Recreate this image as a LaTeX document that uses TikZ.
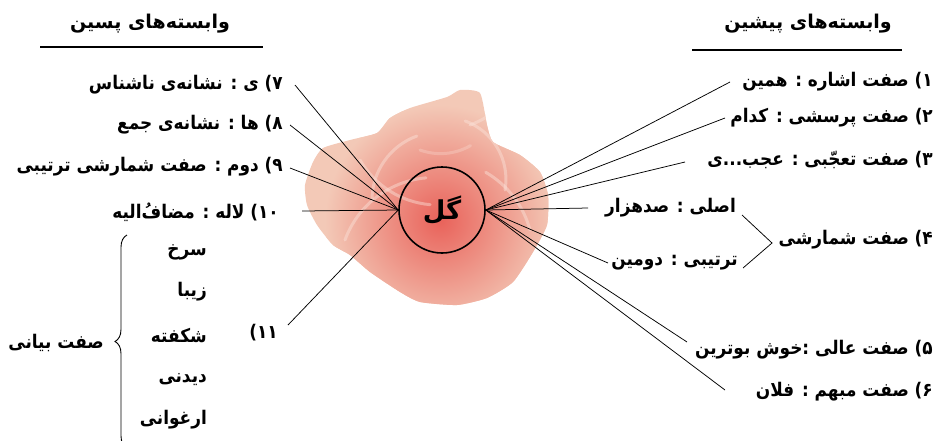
\documentclass[tikz,border=0pt]{standalone}
\usepackage{fontspec}
\newfontfamily\fa[Script=Arabic]{DejaVu Sans}
\newfontfamily\fan[Script=Arabic, FakeStretch=0.9]{DejaVu Sans}
\newfontfamily\dv[FakeStretch=0.9]{DejaVu Sans}
\TeXXeTstate=1
\usetikzlibrary{decorations.pathreplacing}
\definecolor{rosebase}{HTML}{F3C9B7}
\definecolor{rosered}{HTML}{E9625A}
\definecolor{roselight}{HTML}{FBE3DA}
\newcommand\RL[1]{\beginR #1\endR}
\begin{document}
\begin{tikzpicture}[x=1pt,y=-1pt,
  lbl/.style={font=\fan\bfseries\fontsize{18.8}{22}\selectfont, inner sep=0pt, anchor=east},
  ttl/.style={font=\fa\bfseries\fontsize{19}{23}\selectfont, inner sep=0pt},
  conn/.style={line width=0.75pt, black},
  rule/.style={line width=1.6pt, black},
  petal/.style={line width=3pt, roselight, opacity=0.45, line cap=round}
  ]
\useasboundingbox (0,0) rectangle (944,440);

% rose
\def\rosepath{(305,185) (313,162) (323,148) (350,140) (377,133) (390,118) (410,108) (447,97) (460,90) (480,93) (487,125) (493,142) (520,155) (540,172) (548,195) (547,225) (533,252) (513,282) (487,298) (457,305) (420,302) (400,292) (370,272) (350,255) (333,245) (317,225) (307,205)}
\fill[rosebase] plot[smooth cycle, tension=0.35] coordinates {\rosepath};
\begin{scope}
  \clip plot[smooth cycle, tension=0.35] coordinates {\rosepath};
  \shade[inner color=rosered, outer color=rosebase] (440,220) circle[radius=115];
  \draw[petal] (372,200) arc[start angle=180, end angle=250, radius=68];
  \draw[petal] (505,190) arc[start angle=10, end angle=-70, radius=62];
  \draw[petal] (360,160) arc[start angle=150, end angle=95, radius=90];
  \draw[petal] (470,125) arc[start angle=70, end angle=25, radius=90];
  \draw[petal] (345,240) arc[start angle=200, end angle=265, radius=95];
  \draw[petal] (530,230) arc[start angle=-15, end angle=-60, radius=95];
  \draw[petal, opacity=0.3] (420,150) arc[start angle=110, end angle=60, radius=60];
\end{scope}

% centre
\node[draw, circle, line width=1.6pt, minimum size=86pt, inner sep=0pt,
      font=\fa\bfseries\fontsize{26}{28}\selectfont] (gul) at (442,210) {\RL{گل}};

% titles
\node[ttl] (tleft) at (150,24) {\RL{وابسته‌های پسین}};
\node[ttl] (tright) at (808,24) {\RL{وابسته‌های پیشین}};
\draw[rule] (40,47) -- (263,47);
\draw[rule] (692,50) -- (902,50);

% left labels
\node[lbl] (l7) at (283,85) {\RL{ی : نشانه‌ی ناشناس}~{\dv(۷}};
\node[lbl] (l8) at (283,125) {\RL{ها : نشانه‌ی جمع}~{\dv(۸}};
\node[lbl] (l9) at (283,167) {\RL{دوم : صفت شمارشی ترتیبی}~{\dv(۹}};
\node[lbl] (l10) at (279,212) {\RL{لاله : مضافُ‌الیه}~{\dv(۱۰}};
\node[lbl] (l11) at (278,333) {{\dv(۱۱}};

\node[lbl] (w1) at (207,252) {\RL{سرخ}};
\node[lbl] (w2) at (207,292) {\RL{زیبا}};
\node[lbl] (w3) at (207,335) {\RL{شکفته}};
\node[lbl] (w4) at (207,380) {\RL{دیدنی}};
\node[lbl] (w5) at (207,420) {\RL{ارغوانی}};
\node[lbl] (bayani) at (104,343) {\RL{صفت بیانی}};
\draw[line width=0.9pt, decorate, decoration={brace, amplitude=12pt}] (127,448) -- (127,235);

% right labels
\node[lbl] (r1) at (933,82) {\RL{صفت اشاره : همین}~{\dv(۱}};
\node[lbl] (r2) at (933,118) {\RL{صفت پرسشی : کدام}~{\dv(۲}};
\node[lbl] (r3) at (933,160) {\RL{صفت تعجّبی : عجب...ی}~{\dv(۳}};
\node[lbl] (r4) at (933,240) {\RL{صفت شمارشی}~{\dv(۴}};
\node[lbl] (r4a) at (736,208) {\RL{اصلی : صدهزار}};
\node[lbl] (r4b) at (738,263) {\RL{ترتیبی : دومین}};
\node[lbl] (r5) at (933,350) {\RL{صفت عالی :خوش بوترین}~{\dv(۵}};
\node[lbl] (r6) at (933,392) {\RL{صفت مبهم : فلان}~{\dv(۶}};

% connector ends
\coordinate (c7) at (295,85);
\coordinate (c8) at (290,125);
\coordinate (c9) at (290,168);
\coordinate (c10) at (302,211);
\coordinate (c11) at (288,325);
\coordinate (c1) at (730,82);
\coordinate (c2) at (725,118);
\coordinate (c3) at (685,162);
\coordinate (c4a) at (588,208);
\coordinate (c4b) at (608,263);
\coordinate (c5) at (687,342);
\coordinate (c6) at (725,390);
\coordinate (b1) at (742,215);
\coordinate (b2) at (772,243);
\coordinate (b3) at (743,268);

\foreach \c in {c7,c8,c9,c10,c11} \draw[conn] (gul.west) -- (\c);
\foreach \c in {c1,c2,c3,c4a,c4b,c5,c6} \draw[conn] (gul.east) -- (\c);
\draw[conn] (b1) -- (b2) -- (b3);
\end{tikzpicture}
\end{document}
